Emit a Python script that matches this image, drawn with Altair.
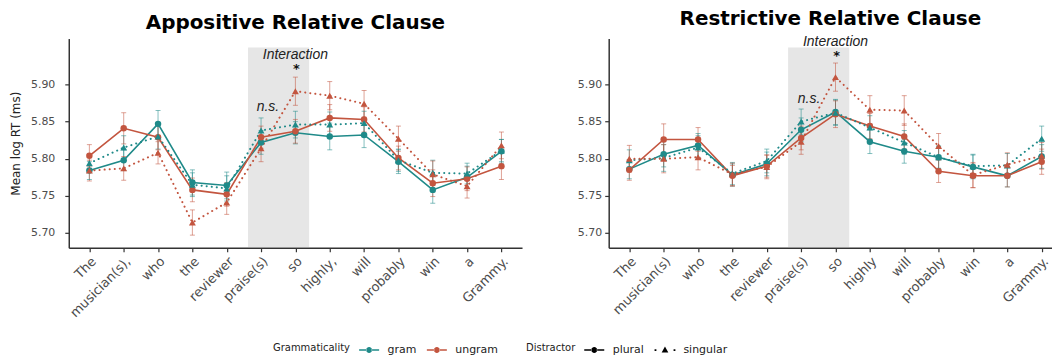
import altair as alt
import pandas as pd

# ---------------- data ----------------
words_app = ["The", "musician(s),", "who", "the", "reviewer", "praise(s)", "so",
             "highly,", "will", "probably", "win", "a", "Grammy."]
words_res = ["The", "musician(s)", "who", "the", "reviewer", "praise(s)", "so",
             "highly", "will", "probably", "win", "a", "Grammy."]
positions = list(range(1, 14))

grammaticality = ["gram", "ungram"]
distractor = ["plural", "singular"]

# Appositive relative clause: mean log RT
app_gram_plural = [5.784, 5.798, 5.847, 5.768, 5.764, 5.822, 5.835, 5.830, 5.832, 5.796, 5.758, 5.775, 5.810]
app_gram_singular = [5.794, 5.815, 5.830, 5.765, 5.760, 5.838, 5.846, 5.846, 5.848, 5.798, 5.781, 5.780, 5.811]
app_ungram_plural = [5.804, 5.841, 5.829, 5.758, 5.752, 5.829, 5.837, 5.855, 5.853, 5.801, 5.767, 5.773, 5.790]
app_ungram_singular = [5.784, 5.787, 5.808, 5.714, 5.741, 5.814, 5.891, 5.885, 5.874, 5.827, 5.779, 5.763, 5.818]
# Appositive: standard errors
app_se_gram_plural = [0.012, 0.014, 0.018, 0.017, 0.018, 0.016, 0.015, 0.018, 0.017, 0.016, 0.018, 0.015, 0.016]
app_se_gram_singular = [0.012, 0.016, 0.017, 0.016, 0.017, 0.017, 0.018, 0.017, 0.016, 0.015, 0.017, 0.014, 0.015]
app_se_ungram_plural = [0.015, 0.021, 0.017, 0.016, 0.016, 0.015, 0.016, 0.018, 0.017, 0.016, 0.018, 0.016, 0.018]
app_se_ungram_singular = [0.014, 0.016, 0.015, 0.017, 0.016, 0.018, 0.019, 0.019, 0.018, 0.017, 0.018, 0.016, 0.018]

# Restrictive relative clause: mean log RT
res_gram_plural = [5.786, 5.806, 5.818, 5.778, 5.793, 5.839, 5.863, 5.823, 5.810, 5.802, 5.789, 5.777, 5.803]
res_gram_singular = [5.798, 5.801, 5.815, 5.780, 5.797, 5.850, 5.862, 5.842, 5.822, 5.802, 5.790, 5.791, 5.827]
res_ungram_plural = [5.785, 5.826, 5.826, 5.777, 5.790, 5.828, 5.860, 5.844, 5.830, 5.783, 5.777, 5.777, 5.796]
res_ungram_singular = [5.800, 5.800, 5.802, 5.779, 5.789, 5.823, 5.910, 5.866, 5.865, 5.817, 5.778, 5.792, 5.804]
# Restrictive: standard errors
res_se_gram_plural = [0.013, 0.017, 0.016, 0.015, 0.016, 0.016, 0.017, 0.016, 0.016, 0.015, 0.016, 0.015, 0.016]
res_se_gram_singular = [0.014, 0.018, 0.016, 0.015, 0.016, 0.017, 0.017, 0.016, 0.016, 0.015, 0.016, 0.016, 0.017]
res_se_ungram_plural = [0.014, 0.021, 0.016, 0.014, 0.015, 0.016, 0.018, 0.017, 0.017, 0.015, 0.016, 0.015, 0.017]
res_se_ungram_singular = [0.018, 0.019, 0.017, 0.015, 0.016, 0.017, 0.019, 0.019, 0.020, 0.017, 0.017, 0.016, 0.018]

# annotation labels
ann_labels = ["Interaction", "*", "n.s."]

TEAL = "#1f8a89"
RED = "#c3553f"


def make_df(series):
    rows = []
    for (g, d), (means, ses) in series.items():
        for p, m, s in zip(positions, means, ses):
            rows.append({"pos": p, "Grammaticality": g, "Distractor": d,
                         "mean": m, "lo": m - s, "hi": m + s})
    return pd.DataFrame(rows)


df_app = make_df({
    ("gram", "plural"): (app_gram_plural, app_se_gram_plural),
    ("gram", "singular"): (app_gram_singular, app_se_gram_singular),
    ("ungram", "plural"): (app_ungram_plural, app_se_ungram_plural),
    ("ungram", "singular"): (app_ungram_singular, app_se_ungram_singular),
})
df_res = make_df({
    ("gram", "plural"): (res_gram_plural, res_se_gram_plural),
    ("gram", "singular"): (res_gram_singular, res_se_gram_singular),
    ("ungram", "plural"): (res_ungram_plural, res_se_ungram_plural),
    ("ungram", "singular"): (res_ungram_singular, res_se_ungram_singular),
})

# shaded critical region (praise(s) .. so)
shade = pd.DataFrame({"x1": [5.62], "x2": [7.4], "y1": [5.681], "y2": [5.95]})

ann_app = pd.DataFrame({"label": ann_labels, "pos": [7.0, 7.03, 6.2], "y": [5.940, 5.921, 5.870]})
ann_res = pd.DataFrame({"label": ann_labels, "pos": [7.0, 7.03, 6.23], "y": [5.957, 5.938, 5.881]})

PATH_LINE_DOT = ("M-1.2,-0.09L-0.3,-0.09L-0.3,0.09L-1.2,0.09Z "
                 "M0.3,-0.09L1.2,-0.09L1.2,0.09L0.3,0.09Z "
                 "M-0.36,0A0.36,0.36,0,1,0,0.36,0A0.36,0.36,0,1,0,-0.36,0Z")
PATH_DOT_TRI = ("M-1.25,-0.11L-1.03,-0.11L-1.03,0.11L-1.25,0.11Z "
                "M1.03,-0.11L1.25,-0.11L1.25,0.11L1.03,0.11Z "
                "M0,-0.42L0.4,0.28L-0.4,0.28Z")

YDOM = [5.68, 5.962]


def x_enc(field, words, xmax):
    label_expr = "[" + ",".join("'" + w + "'" for w in words) + "][datum.value - 1]"
    return alt.X(field + ":Q",
                 scale=alt.Scale(domain=[0.4, xmax], nice=False, zero=False),
                 axis=alt.Axis(values=positions, labelExpr=label_expr, title=None,
                               labelAngle=-45, labelAlign="right", labelBaseline="top",
                               labelPadding=3, labelFontSize=13, grid=False,
                               labelOverlap=False, labelBound=False))


def y_enc(field, ytitle, label_pad):
    kw = dict(values=[5.70, 5.75, 5.80, 5.85, 5.90], format=".2f", grid=False,
              labelPadding=label_pad, labelFontSize=11)
    if ytitle:
        kw["title"] = ytitle
        kw["titleFontSize"] = 12
        kw["titlePadding"] = 8
        kw["titleFontWeight"] = "normal"
        kw["titleColor"] = "#222222"
    else:
        kw["title"] = None
    return alt.Y(field + ":Q", scale=alt.Scale(domain=YDOM, nice=False, zero=False),
                 axis=alt.Axis(**kw))


LEGEND_COMMON = dict(orient="none", legendY=304, direction="horizontal", titleOrient="left",
                     titleAnchor="middle", titleBaseline="middle", symbolSize=280,
                     symbolStrokeWidth=0, labelFontSize=11, titleFontSize=10,
                     titleFontWeight="normal", labelOffset=10, columnPadding=10,
                     titlePadding=10, labelColor="#222222", titleColor="#222222")

color_scale = alt.Scale(domain=grammaticality, range=[TEAL, RED])
color_legend = alt.Legend(title="Grammaticality", legendX=205, symbolType=PATH_LINE_DOT,
                          symbolOpacity=1, **LEGEND_COMMON)


def color_enc():
    return alt.Color("Grammaticality:N", scale=color_scale, legend=color_legend)


def panel(df, words, ann, title, ytitle, label_pad, width, xmax, with_shape_legend):
    X = x_enc("pos", words, xmax)
    Y = y_enc("mean", ytitle, label_pad)
    base = alt.Chart(df)

    rect = alt.Chart(shade).mark_rect(color="#e6e6e6").encode(
        x=x_enc("x1", words, xmax), x2="x2", y=y_enc("y1", ytitle, label_pad), y2="y2")

    pt_pl = base.transform_filter(alt.datum.Distractor == "plural").mark_point(
        filled=True, shape="circle", size=42, opacity=1).encode(x=X, y=Y, color=color_enc())
    pt_sg = base.transform_filter(alt.datum.Distractor == "singular").mark_point(
        filled=True, shape="triangle-up", size=48, opacity=1).encode(x=X, y=Y, color=color_enc())

    err = base.mark_rule(strokeWidth=1, opacity=0.55).encode(
        x=X, y=y_enc("lo", ytitle, label_pad), y2="hi", color=color_enc())
    cap_lo = base.mark_tick(orient="horizontal", size=5, thickness=1, opacity=0.55).encode(
        x=X, y=y_enc("lo", ytitle, label_pad), color=color_enc())
    cap_hi = base.mark_tick(orient="horizontal", size=5, thickness=1, opacity=0.55).encode(
        x=X, y=y_enc("hi", ytitle, label_pad), color=color_enc())

    line_pl = base.transform_filter(alt.datum.Distractor == "plural").mark_line(
        strokeWidth=1.6).encode(x=X, y=Y, color=color_enc())
    line_sg = base.transform_filter(alt.datum.Distractor == "singular").mark_line(
        strokeWidth=2, strokeDash=[0.1, 5], strokeCap="round").encode(
        x=X, y=Y, color=color_enc())

    ann_it = alt.Chart(ann).transform_filter(alt.datum.label != "*").mark_text(
        font="Liberation Sans", fontStyle="italic", fontSize=14, color="#222222",
        baseline="middle").encode(x=x_enc("pos", words, xmax), y=y_enc("y", ytitle, label_pad),
                                  text="label:N")
    ann_star = alt.Chart(ann).transform_filter(alt.datum.label == "*").mark_text(
        font="DejaVu Sans", fontWeight="bold", fontSize=13, color="#111111",
        baseline="middle").encode(x=x_enc("pos", words, xmax), y=y_enc("y", ytitle, label_pad),
                                  text="label:N")

    layers = [rect, err, cap_lo, cap_hi, line_pl, line_sg, pt_pl, pt_sg, ann_it, ann_star]
    if with_shape_legend:
        dummy = base.transform_filter("false").mark_point(filled=True, color="#000000", opacity=1).encode(
            shape=alt.Shape("Distractor:N",
                            scale=alt.Scale(domain=distractor, range=[PATH_LINE_DOT, PATH_DOT_TRI]),
                            legend=alt.Legend(title="Distractor", legendX=459,
                                              symbolFillColor="#000000", **LEGEND_COMMON)))
        layers.append(dummy)

    return alt.layer(*layers).properties(
        width=width, height=210,
        title=alt.Title(title, fontSize=20, font="DejaVu Sans", fontWeight="bold",
                        anchor="middle", offset=6, color="#000000"))


left = panel(df_app, words_app, ann_app, "Appositive Relative Clause", "Mean log RT (ms)",
             10, 455, 13.6, True)
right = panel(df_res, words_res, ann_res, "Restrictive Relative Clause", None,
              3, 445, 13.3, False)

chart = alt.hconcat(left, right, spacing=55).properties(
    padding={"left": 1, "top": 0, "right": 0, "bottom": 0}
).configure_view(stroke=None).configure_axis(
    domainColor="#333333", domainWidth=1.5, tickColor="#333333", tickWidth=1.2, tickSize=4,
    labelColor="#4d4d4d", labelFont="DejaVu Sans", titleFont="DejaVu Sans"
).configure_legend(
    labelFont="DejaVu Sans", titleFont="DejaVu Sans", padding=0
)

chart.save("out.html", embed_options={"renderer": "svg", "actions": False})
